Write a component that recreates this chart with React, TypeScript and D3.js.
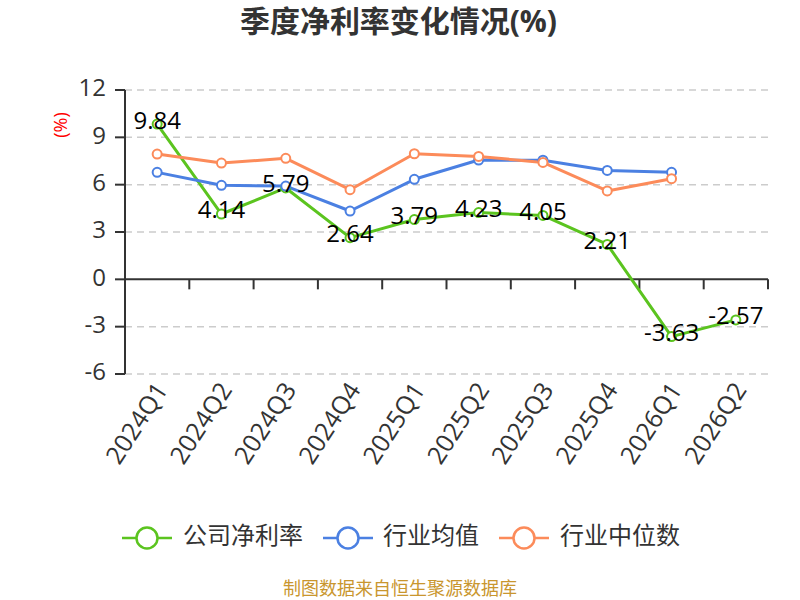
import * as d3 from 'd3';

const quarters = ['2024Q1', '2024Q2', '2024Q3', '2024Q4', '2025Q1', '2025Q2', '2025Q3', '2025Q4', '2026Q1', '2026Q2'];
const companyRate = [9.84, 4.14, 5.79, 2.64, 3.79, 4.23, 4.05, 2.21, -3.63, -2.57];
const industryAvg = [6.78, 5.96, 5.91, 4.33, 6.34, 7.56, 7.55, 6.9, 6.78];
const industryMedian = [7.94, 7.37, 7.67, 5.68, 7.96, 7.79, 7.41, 5.6, 6.38];
const yTicks = [-6, -3, 0, 3, 6, 9, 12];

const seriesNames = ['公司净利率', '行业均值', '行业中位数'];
const colors = ['#5bc41f', '#4b80e2', '#fc8b5a'];

const width = 800;
const height = 600;
const margin = { top: 90, right: 32, bottom: 226, left: 125 };
const font = '"Open Sans", "Noto Sans CJK SC", sans-serif';

export default function App() {
  const x = d3
    .scaleBand<string>()
    .domain(quarters)
    .range([margin.left, width - margin.right]);
  const y = d3
    .scaleLinear()
    .domain([-6, 12])
    .range([height - margin.bottom, margin.top]);
  const cx = (i: number) => (x(quarters[i]) ?? 0) + x.bandwidth() / 2;

  const line = d3
    .line<number>()
    .x((_, i) => cx(i))
    .y((d) => y(d));

  const series = [companyRate, industryAvg, industryMedian];
  const boundaries = quarters.map((q) => x(q) ?? 0).concat([width - margin.right]);

  // legend: symbol start and text start
  const legendPos = [
    { lx: 122, tx: 183 },
    { lx: 323, tx: 383 },
    { lx: 499, tx: 560 },
  ];

  return (
    <svg width={width} height={height} style={{ position: 'absolute', top: 0, left: 0, fontFamily: font }}>
      <rect width={width} height={height} fill="#fff" />
      <text
        x={240}
        y={24}
        dominantBaseline="middle"
        fontSize={30}
        fontWeight="bold"
        fill="#333"
        textLength={317}
        lengthAdjust="spacing"
      >
        季度净利率变化情况(%)
      </text>

      {/* grid */}
      {yTicks
        .filter((t) => t !== 0)
        .map((t) => (
          <line
            key={t}
            x1={margin.left}
            x2={width - margin.right}
            y1={y(t)}
            y2={y(t)}
            stroke="#ccc"
            strokeWidth={1.5}
            strokeDasharray="7,5"
          />
        ))}

      {/* y axis */}
      <line x1={margin.left} x2={margin.left} y1={y(12)} y2={y(-6)} stroke="#333" strokeWidth={2} />
      {yTicks.map((t) => (
        <g key={t}>
          <line x1={margin.left - 10} x2={margin.left} y1={y(t)} y2={y(t)} stroke="#333" strokeWidth={2} />
          <text x={margin.left - 19} y={y(t)} textAnchor="end" dominantBaseline="middle" fontSize={24} fill="#333">
            {t}
          </text>
        </g>
      ))}
      <text
        transform={`translate(62,125) rotate(-90)`}
        textAnchor="middle"
        dominantBaseline="middle"
        fontSize={18}
        fill="#f00"
      >
        (%)
      </text>

      {/* x axis at zero */}
      <line x1={margin.left} x2={width - margin.right} y1={y(0)} y2={y(0)} stroke="#333" strokeWidth={2} />
      {boundaries.map((b, i) => (
        <line key={i} x1={b} x2={b} y1={y(0)} y2={y(0) + 10} stroke="#333" strokeWidth={2} />
      ))}
      {quarters.map((q, i) => (
        <text
          key={q}
          transform={`translate(${cx(i) + 6},${y(-6) + 12}) rotate(-57)`}
          textAnchor="end"
          dominantBaseline="middle"
          fontSize={25}
          fill="#333"
        >
          {q}
        </text>
      ))}

      {/* series lines */}
      {series.map((s, k) => (
        <path key={k} d={line(s) ?? ''} fill="none" stroke={colors[k]} strokeWidth={3} strokeLinejoin="round" />
      ))}
      {series.map((s, k) =>
        s.map((v, i) => (
          <circle key={`${k}-${i}`} cx={cx(i)} cy={y(v)} r={4.5} fill="#fff" stroke={colors[k]} strokeWidth={2} />
        )),
      )}

      {/* data labels */}
      {companyRate.map((v, i) => (
        <text
          key={i}
          x={cx(i)}
          y={y(v) - 2}
          textAnchor="middle"
          dominantBaseline="middle"
          fontSize={24}
          fill="#000"
        >
          {v.toFixed(2)}
        </text>
      ))}

      {/* legend */}
      {legendPos.map((p, k) => (
        <g key={k}>
          <line x1={p.lx} x2={p.lx + 50} y1={538} y2={538} stroke={colors[k]} strokeWidth={2.5} />
          <circle cx={p.lx + 25} cy={538} r={10.5} fill="#fff" stroke={colors[k]} strokeWidth={2.5} />
          <text x={p.tx} y={538} dominantBaseline="middle" fontSize={24} fill="#333">
            {seriesNames[k]}
          </text>
        </g>
      ))}

      <text x={400} y={590} textAnchor="middle" dominantBaseline="middle" fontSize={18} fill="#c9962e">
        制图数据来自恒生聚源数据库
      </text>
    </svg>
  );
}
